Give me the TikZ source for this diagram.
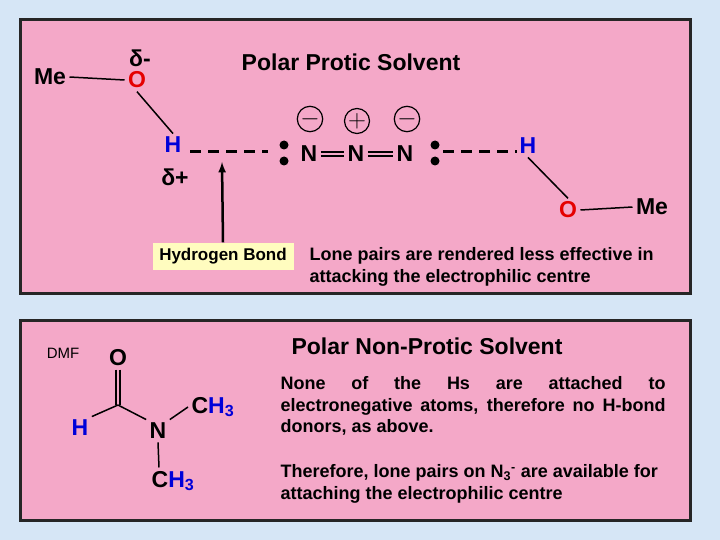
\documentclass[tikz,border=0pt]{standalone}
\usepackage{fontspec}
\setmainfont{Liberation Sans}
\definecolor{pk}{HTML}{F4A8C8}
\definecolor{bgb}{HTML}{D6E6F6}
\begin{document}
\begin{tikzpicture}[x=1pt,y=-1pt,font=\bfseries,
 panel/.style={draw=black!85,line width=3pt,fill=pk},
 big/.style={font=\bfseries\fontsize{23}{25}\selectfont},
 txt/.style={font=\bfseries\fontsize{18}{21.5}\selectfont},
 red/.style={text=red!90!black},
 blu/.style={text=blue!85!black},
 bond/.style={line width=1.5pt},
 hb/.style={line width=3pt,dash pattern=on 11pt off 7pt},
 dot/.style={circle,fill=black,inner sep=0pt,minimum size=9pt},
 chg/.style={circle,draw,line width=1.2pt,minimum size=25pt,inner sep=0pt,font=\fontsize{24}{24}\selectfont}]
\fill[bgb] (0,0) rectangle (720,540);
\useasboundingbox (0,0) rectangle (720,540);
\draw[panel] (20,20) rectangle (690,293);
\draw[panel] (20,320) rectangle (690,520);
% top
\node[big] (me1) at (50,77) {Me};
\node[big,red] (o1) at (137,80) {O};
\node[big,inner sep=0pt] (dm) at (140,58) {δ-};
\node[big] (tt) at (351,62) {Polar Protic Solvent};
\node[big,blu] (h1) at (173,145) {H};
\node[big] (dp) at (175,177) {δ+};
\draw[bond] (me1.east) -- (o1.west);
\draw[bond] (o1.south) -- (h1.north);
\node[dot] (d1) at (284,145) {};
\node[dot] (d2) at (284,161) {};
\node[big] (n1) at (309,154) {N};
\node[big] (n2) at (356,154) {N};
\node[big] (n3) at (405,154) {N};
\draw[bond] ([yshift=-2pt]n1.east) -- ([yshift=-2pt]n2.west);
\draw[bond] ([yshift=2pt]n1.east) -- ([yshift=2pt]n2.west);
\draw[bond] ([yshift=-2pt]n2.east) -- ([yshift=-2pt]n3.west);
\draw[bond] ([yshift=2pt]n2.east) -- ([yshift=2pt]n3.west);
\node[chg] (c1) at (310,119) {$-$};
\node[chg] (c2) at (357,121) {$+$};
\node[chg] (c3) at (407,119) {$-$};
\node[dot] (d3) at (435,145) {};
\node[dot] (d4) at (435,161) {};
\node[big,blu] (h2) at (528,146) {H};
\node[big,red] (o2) at (568,210) {O};
\node[big] (me2) at (652,207) {Me};
\draw[bond] (h2.south) -- (o2.north);
\draw[bond] (o2.east) -- (me2.west);
\coordinate (hs) at (190,152);
\coordinate (he) at (268,152);
\draw[hb] (hs) -- (he);
\coordinate (hs2) at (443,152);
\coordinate (he2) at (517,152);
\draw[hb] (hs2) -- (he2);
\node[txt,fill=yellow!25,minimum width=141pt,minimum height=27pt,inner sep=0pt] (hbl) at (223,256) {\fontsize{17}{17}\selectfont Hydrogen Bond};
\coordinate (at) at (222,162);
\draw[line width=2.5pt,-latex] (hbl.north) -- (at);
\node[txt,align=left,anchor=north west] (lp) at (306,244) {Lone pairs are rendered less effective in\\attacking the electrophilic centre};
% bottom
\node[font=\fontsize{15}{15}\selectfont] (dmf) at (63,353) {DMF};
\node[big] (o3) at (118,358) {O};
\coordinate (c) at (118,405);
\node[big,blu] (h3) at (80,428) {H};
\node[big] (n4) at (158,431) {N};
\node[big,anchor=west] (ch1) at (188,407) {C\textcolor{blue!85!black}{H\textsubscript{3}}};
\node[big] (ch2) at (173,481) {C\textcolor{blue!85!black}{H\textsubscript{3}}};
\draw[bond] ([xshift=-2pt]o3.south) -- ([xshift=-2pt]c);
\draw[bond] ([xshift=2pt]o3.south) -- ([xshift=2pt]c);
\draw[bond] (c) -- (h3.north east);
\draw[bond] (c) -- (n4.north west);
\draw[bond] (n4.north east) -- (ch1.west);
\draw[bond] (n4.south) -- ([xshift=-14pt]ch2.north);
\node[big] (t2) at (427,346) {Polar Non-Protic Solvent};
\node[txt,anchor=north west,align=left] (p1) at (277,373) {\makebox[385pt][s]{None of the Hs are attached to}\\\makebox[385pt][s]{electronegative atoms, therefore no H-bond}\\donors, as above.};
\node[txt,anchor=north west,align=left] (p2) at (277,461) {Therefore, lone pairs on N\textsubscript{3}\textsuperscript{-} are available for\\attaching the electrophilic centre};
\end{tikzpicture}
\end{document}
